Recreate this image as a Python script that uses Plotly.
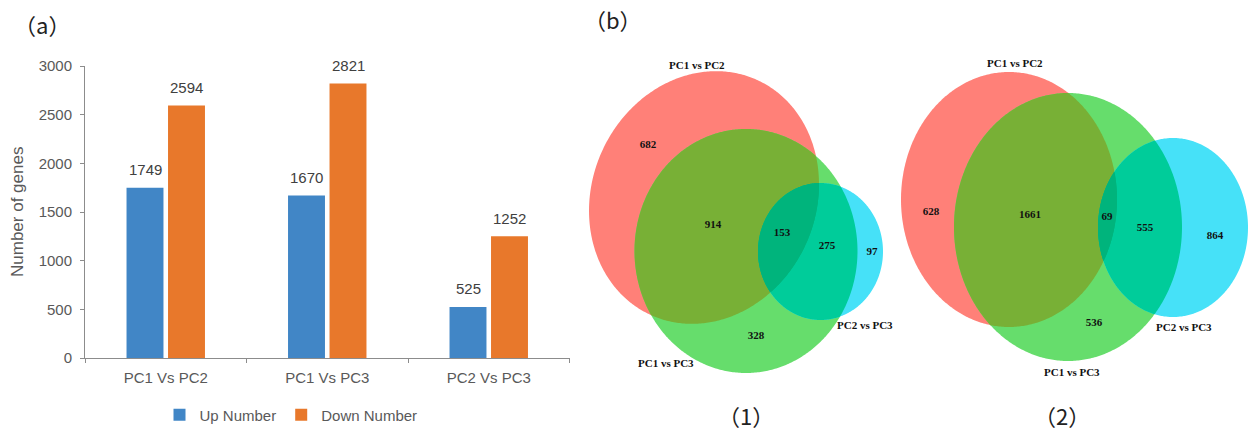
import numpy as np
import plotly.graph_objects as go

# ---------------- (a) differentially expressed genes ----------------
comparisons = ["PC1 Vs PC2", "PC1 Vs PC3", "PC2 Vs PC3"]
up_number = [1749, 1670, 525]
down_number = [2594, 2821, 1252]

# ---------------- (b) Venn region counts ----------------
set_names = ["PC1 vs PC2", "PC1 vs PC3", "PC2 vs PC3"]
# regions: only PC1vsPC2, PC1vsPC2&PC1vsPC3, all three, PC1vsPC3&PC2vsPC3, only PC2vsPC3, only PC1vsPC3
venn1_counts = [682, 914, 153, 275, 97, 328]
venn2_counts = [628, 1661, 69, 555, 864, 536]

# ---------------- layout geometry (pixel space of the page) ----------------
W, H = 1259, 432
BLUE, ORANGE = "#4186C6", "#E8782B"
GREY_TXT, AXIS_COL = "#595959", "#8C8C8C"

# region label anchors inside each diagram
venn1_label_xy = [(648, 145), (713, 225), (782, 233), (827, 246), (872, 252), (756, 336)]
venn2_label_xy = [(931, 212), (1030, 215), (1107, 217), (1145, 228), (1215, 236), (1094, 323)]
venn1_name_xy = [(697, 65), (666, 363), (865, 325)]
venn2_name_xy = [(1015, 63), (1072, 372), (1184, 327)]

# ellipses: centre x, centre y, semi-axis along u, semi-axis along v, rotation (deg)
venn1_sets = [(704, 197.5, 112, 129, 24), (746, 251, 111.5, 122, 0), (820.5, 251.5, 62.5, 68.5, 0)]
venn2_sets = [(1009, 199.5, 108, 127.5, 0), (1068, 227, 114, 134, 0), (1173, 227.5, 75, 89.5, 0)]

SET_COLORS = ["#FF8078", "#66DD6C", "#46E1F8"]
PAIR_COLORS = {(0, 1): "#78B036", (1, 2): "#00CC9A", (0, 2): "#00B47C"}
TRIPLE_COLOR = "#00B47C"


def ellipse_points(e, n=480):
    cx, cy, a, b, phi = e
    p = np.deg2rad(phi)
    t = np.linspace(0, 2 * np.pi, n, endpoint=False)
    u = np.array([np.cos(p), np.sin(p)])
    v = np.array([-np.sin(p), np.cos(p)])
    pts = np.c_[cx + a * np.cos(t) * u[0] + b * np.sin(t) * v[0],
                cy + a * np.cos(t) * u[1] + b * np.sin(t) * v[1]]
    return pts


def inside(e, pts):
    cx, cy, a, b, phi = e
    p = np.deg2rad(phi)
    d = pts - np.array([cx, cy])
    xu = d[:, 0] * np.cos(p) + d[:, 1] * np.sin(p)
    yv = -d[:, 0] * np.sin(p) + d[:, 1] * np.cos(p)
    return (xu / a) ** 2 + (yv / b) ** 2 <= 1 + 1e-9


def region_path(ells):
    """Boundary of the (convex) intersection of several ellipses as an SVG path."""
    chunks = []
    for i, e in enumerate(ells):
        pts = ellipse_points(e)
        mask = np.ones(len(pts), bool)
        for j, o in enumerate(ells):
            if j != i:
                mask &= inside(o, pts)
        chunks.append(pts[mask])
    pts = np.vstack(chunks)
    if len(pts) < 3:
        return None
    c = pts.mean(axis=0)
    order = np.argsort(np.arctan2(pts[:, 1] - c[1], pts[:, 0] - c[0]))
    pts = pts[order]
    return "M " + " L ".join(f"{x:.2f},{y:.2f}" for x, y in pts) + " Z"


def venn_shapes(sets):
    shapes = []

    def add(path, color):
        if path:
            shapes.append(dict(type="path", path=path, xref="x2", yref="y2",
                               fillcolor=color, line=dict(width=0), layer="below"))

    for e, col in zip(sets, SET_COLORS):
        add(region_path([e]), col)
    for (i, j), col in PAIR_COLORS.items():
        add(region_path([sets[i], sets[j]]), col)
    add(region_path(sets), TRIPLE_COLOR)
    return shapes


fig = go.Figure()

fig.add_trace(go.Bar(x=comparisons, y=up_number, name="Up Number",
                     marker=dict(color=BLUE, line=dict(width=0)), xaxis="x", yaxis="y"))
fig.add_trace(go.Bar(x=comparisons, y=down_number, name="Down Number",
                     marker=dict(color=ORANGE, line=dict(width=0)), xaxis="x", yaxis="y"))

# Venn region counts
vx = [p[0] for p in venn1_label_xy + venn2_label_xy]
vy = [p[1] for p in venn1_label_xy + venn2_label_xy]
vt = [str(c) for c in venn1_counts + venn2_counts]
fig.add_trace(go.Scatter(x=vx, y=vy, text=vt, mode="text", xaxis="x2", yaxis="y2",
                         textfont=dict(family="Liberation Serif", size=11, color="#111111", weight="bold"),
                         showlegend=False, hoverinfo="skip"))

annotations = []
# value labels over the bars
slot = 20.75
for series, shift in ((up_number, -slot), (down_number, slot)):
    for cat, val in zip(comparisons, series):
        annotations.append(dict(x=cat, y=val, xref="x", yref="y", text=str(val),
                                showarrow=False, xshift=shift, yshift=18, yanchor="middle",
                                font=dict(family="Liberation Sans", size=15, color="#404040")))

# set names around the diagrams
for xy_list in (venn1_name_xy, venn2_name_xy):
    for name, (x, y) in zip(set_names, xy_list):
        annotations.append(dict(x=x, y=y, xref="x2", yref="y2", text=name, showarrow=False,
                                font=dict(family="Liberation Serif", size=11, color="#111111",
                                          weight="bold")))

# panel tags
for txt, x, y in (("（a）", 42, 24), ("（b）", 613, 19), ("（1）", 746, 415), ("（2）", 1062, 415)):
    annotations.append(dict(x=x, y=y, xref="x2", yref="y2", text=txt, showarrow=False,
                            font=dict(family="Noto Sans CJK SC", size=22, color="#222222")))

# y-axis title
annotations.append(dict(x=17, y=212, xref="x2", yref="y2", text="Number of genes", textangle=-90,
                        showarrow=False, font=dict(family="Liberation Sans", size=17, color=GREY_TXT)))

shapes = venn_shapes(venn1_sets) + venn_shapes(venn2_sets)

fig.update_layout(
    width=W, height=H,
    margin=dict(l=0, r=0, t=0, b=0, pad=0, autoexpand=False),
    paper_bgcolor="white", plot_bgcolor="rgba(0,0,0,0)",
    barmode="group", bargap=0.486, bargroupgap=0.11,
    font=dict(family="Liberation Sans", size=15, color=GREY_TXT),
    xaxis=dict(domain=[85 / W, 569.5 / W], anchor="y", showline=True, linecolor=AXIS_COL,
               linewidth=1, ticks="outside", tickson="boundaries", ticklen=4, tickcolor=AXIS_COL,
               tickfont=dict(size=15, color=GREY_TXT), ticklabelstandoff=6, showgrid=False,
               fixedrange=True),
    yaxis=dict(domain=[(H - 358) / H, (H - 66) / H], anchor="x", range=[0, 3000], dtick=500,
               showline=True, linecolor=AXIS_COL, linewidth=1, ticks="outside", ticklen=4,
               tickcolor=AXIS_COL, tickfont=dict(size=15, color=GREY_TXT), ticklabelstandoff=5,
               showgrid=False, zeroline=False, fixedrange=True),
    xaxis2=dict(domain=[0, 1], range=[0, W], anchor="y2", visible=False, fixedrange=True),
    yaxis2=dict(domain=[0, 1], range=[H, 0], anchor="x2", visible=False, fixedrange=True),
    legend=dict(orientation="h", x=291 / W, xanchor="center", y=17 / H, yanchor="middle",
                font=dict(size=15, color=GREY_TXT), itemwidth=30, bgcolor="rgba(0,0,0,0)"),
    shapes=shapes,
    annotations=annotations,
    hovermode=False,
)

fig.write_html("out.html")
